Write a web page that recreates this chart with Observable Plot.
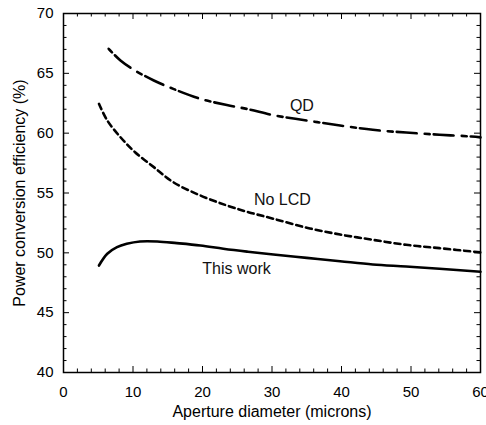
<!DOCTYPE html>
<html>
<head>
<meta charset="utf-8">
<script src="https://cdn.jsdelivr.net/npm/d3@7"></script>
<script src="https://cdn.jsdelivr.net/npm/@observablehq/plot@0.6"></script>
<style>
  html, body { margin: 0; padding: 0; background: white; }
</style>
</head>
<body>
<div id="chart"></div>
<script>
// Data
const qdX = [6.5, 8.2, 10.1, 13.0, 15.8, 19.7, 23.5, 26.6, 30.2, 35.0, 39.8, 44.5, 49.3, 54.1, 58.7, 60];
const qdY = [67.05, 66.07, 65.3, 64.4, 63.7, 62.87, 62.35, 62.0, 61.5, 61.06, 60.64, 60.28, 60.05, 59.87, 59.72, 59.65];

const noLcdX = [5.1, 6.3, 8.2, 10.3, 13.0, 15.8, 19.7, 23.5, 26.6, 30.2, 35.0, 39.8, 44.5, 49.3, 54.1, 60];
const noLcdY = [62.45, 61.06, 59.66, 58.41, 57.16, 55.9, 54.79, 53.96, 53.4, 52.85, 52.1, 51.53, 51.09, 50.67, 50.39, 50.04];

const thisWorkX = [5.1, 6.3, 7.7, 9.1, 11.0, 13.5, 16.3, 19.7, 23.0, 26.4, 30.2, 35.0, 39.8, 44.5, 49.3, 54.1, 60];
const thisWorkY = [48.94, 49.92, 50.47, 50.75, 50.95, 50.95, 50.81, 50.61, 50.34, 50.1, 49.86, 49.58, 49.3, 49.03, 48.86, 48.67, 48.42];

const seriesLabels = ["QD", "No LCD", "This work"];
const labelX = [34.3, 31.5, 24.9];
const labelY = [62.3, 54.4, 48.67];

const xMajorTicks = [0, 10, 20, 30, 40, 50, 60];
const xMinorTicks = [2, 4, 6, 8, 12, 14, 16, 18, 22, 24, 26, 28, 32, 34, 36, 38, 42, 44, 46, 48, 52, 54, 56, 58];
const yMajorTicks = [40, 45, 50, 55, 60, 65, 70];
const yMinorTicks = [41, 42, 43, 44, 46, 47, 48, 49, 51, 52, 53, 54, 56, 57, 58, 59, 61, 62, 63, 64, 66, 67, 68, 69];

const xTitle = "Aperture diameter (microns)";
const yTitle = "Power conversion efficiency (%)";

const toRows = (xs, ys) => xs.map((x, i) => ({x, y: ys[i]}));
const qd = toRows(qdX, qdY);
const noLcd = toRows(noLcdX, noLcdY);
const thisWork = toRows(thisWorkX, thisWorkY);
const labels = seriesLabels.map((t, i) => ({t, x: labelX[i], y: labelY[i]}));

const W = 486, H = 425, mL = 63, mR = 6, mT = 13, mB = 53;
const iw = W - mL - mR, ih = H - mT - mB;
const majorLen = 6, minorLen = 3.5;

const chart = Plot.plot({
  width: W, height: H,
  marginLeft: mL, marginRight: mR, marginTop: mT, marginBottom: mB,
  style: {fontFamily: "'Liberation Sans', Arial, sans-serif", background: "white", color: "black"},
  x: {domain: [0, 60]},
  y: {domain: [40, 70]},
  marks: [
    // inward ticks on all four sides
    Plot.tickX(xMinorTicks, {x: d => d, insetTop: ih - minorLen, stroke: "black"}),
    Plot.tickX(xMinorTicks, {x: d => d, insetBottom: ih - minorLen, stroke: "black"}),
    Plot.tickX(xMajorTicks, {x: d => d, insetTop: ih - majorLen, stroke: "black"}),
    Plot.tickX(xMajorTicks, {x: d => d, insetBottom: ih - majorLen, stroke: "black"}),
    Plot.tickY(yMinorTicks, {y: d => d, insetRight: iw - minorLen, stroke: "black"}),
    Plot.tickY(yMinorTicks, {y: d => d, insetLeft: iw - minorLen, stroke: "black"}),
    Plot.tickY(yMajorTicks, {y: d => d, insetRight: iw - majorLen, stroke: "black"}),
    Plot.tickY(yMajorTicks, {y: d => d, insetLeft: iw - majorLen, stroke: "black"}),
    Plot.frame({stroke: "black", strokeWidth: 1.5}),
    Plot.axisX({ticks: xMajorTicks, tickSize: 0, tickPadding: 14, fontSize: 15, label: null}),
    Plot.axisY({ticks: yMajorTicks, tickSize: 0, tickPadding: 10, fontSize: 15, label: null}),
    Plot.text([xTitle], {text: d => d, frameAnchor: "bottom", dy: 39, fontSize: 16, textAnchor: "middle", lineAnchor: "middle", fill: "black"}),
    Plot.text([yTitle], {text: d => d, frameAnchor: "left", dx: -44, rotate: -90, fontSize: 16, textAnchor: "middle", lineAnchor: "middle", fill: "black"}),
    // curves
    Plot.line(qd, {x: "x", y: "y", curve: "catmull-rom", stroke: "black", strokeWidth: 2.6, strokeDasharray: "5,4,20,8"}),
    Plot.line(noLcd, {x: "x", y: "y", curve: "catmull-rom", stroke: "black", strokeWidth: 2.6, strokeDasharray: "6,4"}),
    Plot.line(thisWork, {x: "x", y: "y", curve: "catmull-rom", stroke: "black", strokeWidth: 2.6}),
    Plot.text(labels, {x: "x", y: "y", text: "t", fontSize: 16, fill: "#111"})
  ]
});
document.getElementById("chart").appendChild(chart);
</script>
</body>
</html>
